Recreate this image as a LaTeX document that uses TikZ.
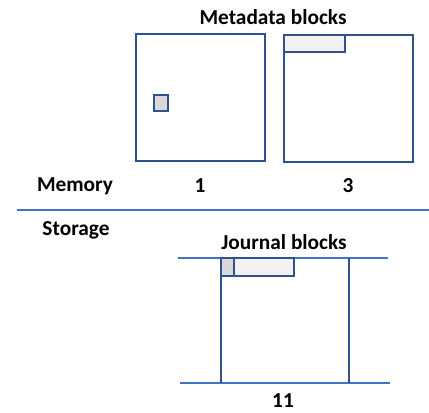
\documentclass[tikz,border=0pt]{standalone}
\usepackage{fontspec}
\setmainfont{Carlito}
\usepackage{xcolor}
\usetikzlibrary{positioning}

\definecolor{blkblue}{RGB}{47,82,143}
\definecolor{lineblue}{RGB}{68,114,196}
\definecolor{slotgray}{RGB}{217,217,217}
\definecolor{slotlight}{RGB}{242,242,242}

\begin{document}
\begin{tikzpicture}[
  x=0.75pt, y=-0.75pt,
  every node/.style={inner sep=0pt},
  lbl/.style={font=\fontsize{16}{19}\selectfont\bfseries},
  blk/.style={draw=blkblue, line width=1.3pt},
  slot/.style={draw=blkblue, line width=1.1pt},
  sep/.style={draw=lineblue, line width=1.2pt}
]
\useasboundingbox (0,0) rectangle (429,413);

% --- Memory: metadata blocks ---
\node[lbl] (meta) at (273,17) {Metadata blocks};
\draw[blk] (136,34) rectangle (265,161);
\draw[slot, fill=slotgray] (154,95) rectangle (168,111);
\draw[blk] (284,35) rectangle (413,162);
\draw[slot, fill=slotlight] (284,35) rectangle (345,52);
\node[lbl] (mem)  at (75,186)  {Memory};
\node[lbl] (one)  at (200,186) {1};
\node[lbl] (three) at (348,186) {3};

% --- separator ---
\coordinate (sepl) at (17,210);
\coordinate (sepr) at (429,210);
\draw[sep] (sepl) -- (sepr);

% --- Storage: journal blocks ---
\node[lbl] (stor) at (76,230) {Storage};
\node[lbl] (jour) at (284,242) {Journal blocks};
\draw[sep] (178,258) -- (388,258);
\draw[sep] (180,383) -- (390,383);
\draw[blk, line width=1.1pt] (221,258) -- (221,383);
\draw[blk, line width=1.1pt] (349,258) -- (349,383);
\draw[slot, fill=slotgray] (221,258) rectangle (234,276);
\draw[slot, fill=slotlight] (234,258) rectangle (294,276);
\node[lbl] (eleven) at (283,401) {11};

\end{tikzpicture}
\end{document}
